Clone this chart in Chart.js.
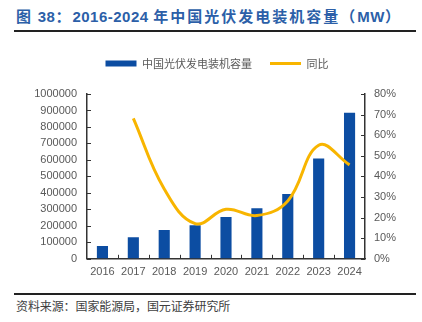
<!DOCTYPE html>
<html>
<head>
<meta charset="utf-8">
<script src="https://cdn.jsdelivr.net/npm/chart.js@4.4.0/dist/chart.umd.min.js"></script>
<style>
  body { margin: 0; width: 422px; height: 322px; background: #fff; position: relative; overflow: hidden; font-family: "Liberation Sans", "Noto Sans CJK SC", sans-serif; }
  #title { position: absolute; left: 16px; top: 9px; font-size: 15px; line-height: 16px; font-weight: bold; color: #2c5fa8; white-space: nowrap; letter-spacing: 0.5px; }
  #title .cjk { letter-spacing: 2px; }
  .rule { position: absolute; left: 14px; width: 402px; height: 2px; background: #222; }
  #source { position: absolute; left: 16px; top: 300px; font-size: 12px; line-height: 12px; color: #404040; font-family: "Noto Sans CJK SC", sans-serif; white-space: nowrap; letter-spacing: -0.1px; }
  #wrap { position: absolute; left: 0; top: 40px; width: 422px; height: 250px; }
</style>
</head>
<body>
<div id="title"><span class="cjk">图</span> 38<span class="cjk">：</span>2016-2024 <span class="cjk">年中国光伏发电装机容量（</span>MW<span class="cjk">）</span></div>
<div class="rule" style="top:30px"></div>
<div id="wrap"><canvas id="chart"></canvas></div>
<div class="rule" style="top:293px"></div>
<div id="source">资料来源：国家能源局，国元证券研究所</div>

<script>
// chart data
const years = ['2016', '2017', '2018', '2019', '2020', '2021', '2022', '2023', '2024'];
const capacity = [77420, 130250, 174460, 204300, 253430, 306560, 392610, 608920, 886660];
const yoy = [null, 68.2, 33.9, 17.1, 24.0, 21.0, 28.1, 55.1, 45.6];

const capMax = 1000000, capStep = 100000;
const yoyMax = 80, yoyStep = 10;

const axisColor = '#333';
const tickColor = '#595959';

// small tick marks pointing into the plot, like the original
const innerTicks = {
  id: 'innerTicks',
  afterDatasetsDraw(chart) {
    const {ctx, chartArea: a, scales} = chart;
    ctx.save();
    ctx.strokeStyle = axisColor;
    ctx.lineWidth = 1;
    ctx.beginPath();
    scales.y.ticks.forEach((t, i) => {
      const y = Math.round(scales.y.getPixelForTick(i)) + 0.5;
      ctx.moveTo(a.left, y); ctx.lineTo(a.left + 4, y);
    });
    scales.y1.ticks.forEach((t, i) => {
      const y = Math.round(scales.y1.getPixelForTick(i)) + 0.5;
      ctx.moveTo(a.right - 4, y); ctx.lineTo(a.right, y);
    });
    for (let k = 1; k < years.length; k++) {
      const x = Math.round(scales.x.getPixelForValue(k - 0.5)) + 0.5;
      ctx.moveTo(x, a.bottom); ctx.lineTo(x, a.bottom - 4);
    }
    ctx.stroke();
    ctx.restore();
  }
};

// extra room under the legend, and nudge it right a little
const legendGap = {
  id: 'legendGap',
  beforeInit(chart) {
    const fit = chart.legend.fit;
    chart.legend.fit = function() {
      fit.bind(chart.legend)();
      this.height += 15;
    };
  },
  afterLayout(chart) {
    chart.legend.left += 6;
    chart.legend.right += 6;
  }
};

new Chart(document.getElementById('chart'), {
  type: 'bar',
  data: {
    labels: years,
    datasets: [
      {
        label: '中国光伏发电装机容量',
        data: capacity,
        backgroundColor: '#0c4da2',
        barPercentage: 0.36,
        categoryPercentage: 1,
        pointStyle: 'rect',
        yAxisID: 'y',
        order: 1
      },
      {
        type: 'line',
        label: '同比',
        data: yoy,
        borderColor: '#f8b500',
        backgroundColor: '#f8b500',
        borderWidth: 3,
        tension: 0.4,
        pointRadius: 0,
        pointStyle: 'line',
        yAxisID: 'y1',
        order: 0
      }
    ]
  },
  options: {
    responsive: true,
    maintainAspectRatio: false,
    animation: false,
    layout: { padding: { top: 0, bottom: 4, left: 0, right: 0 } },
    plugins: {
      tooltip: { enabled: false },
      legend: {
        position: 'top',
        labels: {
          usePointStyle: true,
          pointStyleWidth: 31,
          boxHeight: 6,
          padding: 18,
          color: tickColor,
          font: { family: '"Noto Sans CJK SC", sans-serif', size: 11 },
          sort: (a, b) => a.datasetIndex - b.datasetIndex
        }
      }
    },
    scales: {
      x: {
        grid: { display: true, drawOnChartArea: false, drawTicks: false },
        border: { display: true, color: axisColor, width: 1.5 },
        ticks: { color: tickColor, padding: 7, font: { family: 'Liberation Sans', size: 11 } }
      },
      y: {
        position: 'left',
        min: 0,
        max: capMax,
        afterFit(scale) { scale.width = 87; },
        grid: { display: true, drawOnChartArea: false, drawTicks: false },
        border: { display: true, color: axisColor, width: 1.5 },
        ticks: {
          stepSize: capStep,
          autoSkip: false,
          color: tickColor,
          padding: 10,
          font: { family: 'Liberation Sans', size: 11 },
          callback: v => String(v)
        }
      },
      y1: {
        position: 'right',
        min: 0,
        max: yoyMax,
        afterFit(scale) { scale.width = 57; },
        grid: { display: true, drawOnChartArea: false, drawTicks: false },
        border: { display: true, color: axisColor, width: 1.5 },
        ticks: {
          stepSize: yoyStep,
          autoSkip: false,
          color: tickColor,
          padding: 9,
          font: { family: 'Liberation Sans', size: 11 },
          callback: v => v + '%'
        }
      }
    }
  },
  plugins: [innerTicks, legendGap]
});
</script>
</body>
</html>
